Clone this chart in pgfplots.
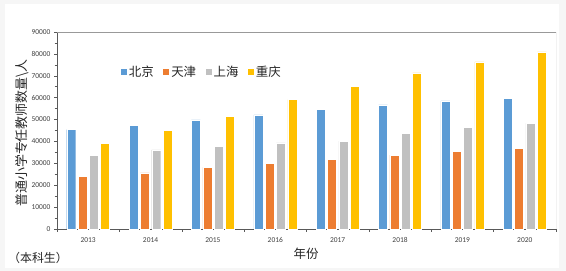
\documentclass[border=0pt]{standalone}
\usepackage{pgfplots}
\pgfplotsset{compat=1.18}
\usepackage{fontspec}
\setmainfont{Carlito}
\newfontfamily\cjk{Noto Sans CJK SC}
\definecolor{cA}{HTML}{5B9BD5}
\definecolor{cB}{HTML}{ED7D31}
\definecolor{cC}{HTML}{A5A5A5}
\definecolor{cD}{HTML}{FFC000}
\definecolor{axgray}{HTML}{595959}
\begin{document}
\begin{tikzpicture}
\fill[gray!7] (0bp,0bp) rectangle (566bp,-271bp);
\fill[white] (5bp,-4bp) rectangle (559bp,-268bp);
\begin{axis}[
  at={(57bp,-229bp)}, anchor=south west,
  scale only axis, width=499bp, height=197bp,
  xmin=-0.5, xmax=7.5, ymin=0, ymax=90000,
  axis lines=left, axis line style={axgray, line width=0.6bp, -},
  xtick={0,...,7},
  xticklabels={2013,2014,2015,2016,2017,2018,2019,2020},
  minor xtick={-0.5,0.5,...,7.5},
  ytick distance=10000, minor y tick num=1,
  tick align=outside,
  major tick length=3bp, minor tick length=2.5bp,
  x tick style={draw=none}, minor x tick style={draw=axgray, line width=0.5bp},
  y tick style={axgray, line width=0.5bp}, minor y tick style={axgray, line width=0.5bp},
  scaled ticks=false,
  /pgf/number format/.cd, 1000 sep={}, assume math mode=true, /pgfplots/.cd,
  tick label style={font=\fontsize{7.5}{8}\selectfont, text=black!75},
  xticklabel style={yshift=-2bp},
  legend style={at={(axis description cs:0.122,0.797)}, anchor=west, draw=none, fill=none,
    legend columns=4, font=\fontsize{12.5}{14}\selectfont\cjk, text=black!85,
    /tikz/every odd column/.style={column sep=2bp},
    /tikz/every even column/.style={column sep=9bp},
    nodes={inner sep=0.5bp}},
]
\addplot[ybar, bar width=9bp, bar shift=-16.95bp, fill=cA, draw=white, line width=0.4bp,
  legend image code/.code={\fill[cA] (0bp,-2.5bp) rectangle (5bp,2.5bp);}]
  coordinates {(0,45400) (1,47500) (2,49900) (3,52100) (4,54700) (5,56700) (6,58500) (7,59700)};
\addlegendentry{北京}
\addplot[ybar, bar width=9bp, bar shift=-5.65bp, fill=cB, draw=white, line width=0.4bp,
  legend image code/.code={\fill[cB] (0bp,-2.5bp) rectangle (5bp,2.5bp);}]
  coordinates {(0,24200) (1,25700) (2,28200) (3,30000) (4,31800) (5,33700) (6,35500) (7,36700)};
\addlegendentry{天津}
\addplot[ybar, bar width=9bp, bar shift=5.65bp, fill=cC!70, draw=white, line width=0.4bp,
  legend image code/.code={\fill[cC!70] (0bp,-2.5bp) rectangle (5bp,2.5bp);}]
  coordinates {(0,33700) (1,36100) (2,37800) (3,39300) (4,40200) (5,43600) (6,46300) (7,48300)};
\addlegendentry{上海}
\addplot[ybar, bar width=9bp, bar shift=16.95bp, fill=cD, draw=white, line width=0.4bp,
  legend image code/.code={\fill[cD] (0bp,-2.5bp) rectangle (5bp,2.5bp);}]
  coordinates {(0,39200) (1,45200) (2,51600) (3,59100) (4,65300) (5,71300) (6,76400) (7,80900)};
\addlegendentry{重庆}
\draw[gray!80, line width=0.8bp] (rel axis cs:0,1) -- (rel axis cs:1,1) -- (rel axis cs:1,0);
\end{axis}
\node[rotate=90, font=\fontsize{13}{14}\selectfont\cjk, text=black!85] at (22bp,-133bp) {普通小学专任教师数量\textbackslash 人};
\node[font=\fontsize{12.5}{14}\selectfont\cjk, text=black!85] at (306bp,-254bp) {年份};
\node[font=\fontsize{12}{14}\selectfont\cjk, text=black!85] at (38bp,-258bp) {（本科生）};
\end{tikzpicture}
\end{document}
